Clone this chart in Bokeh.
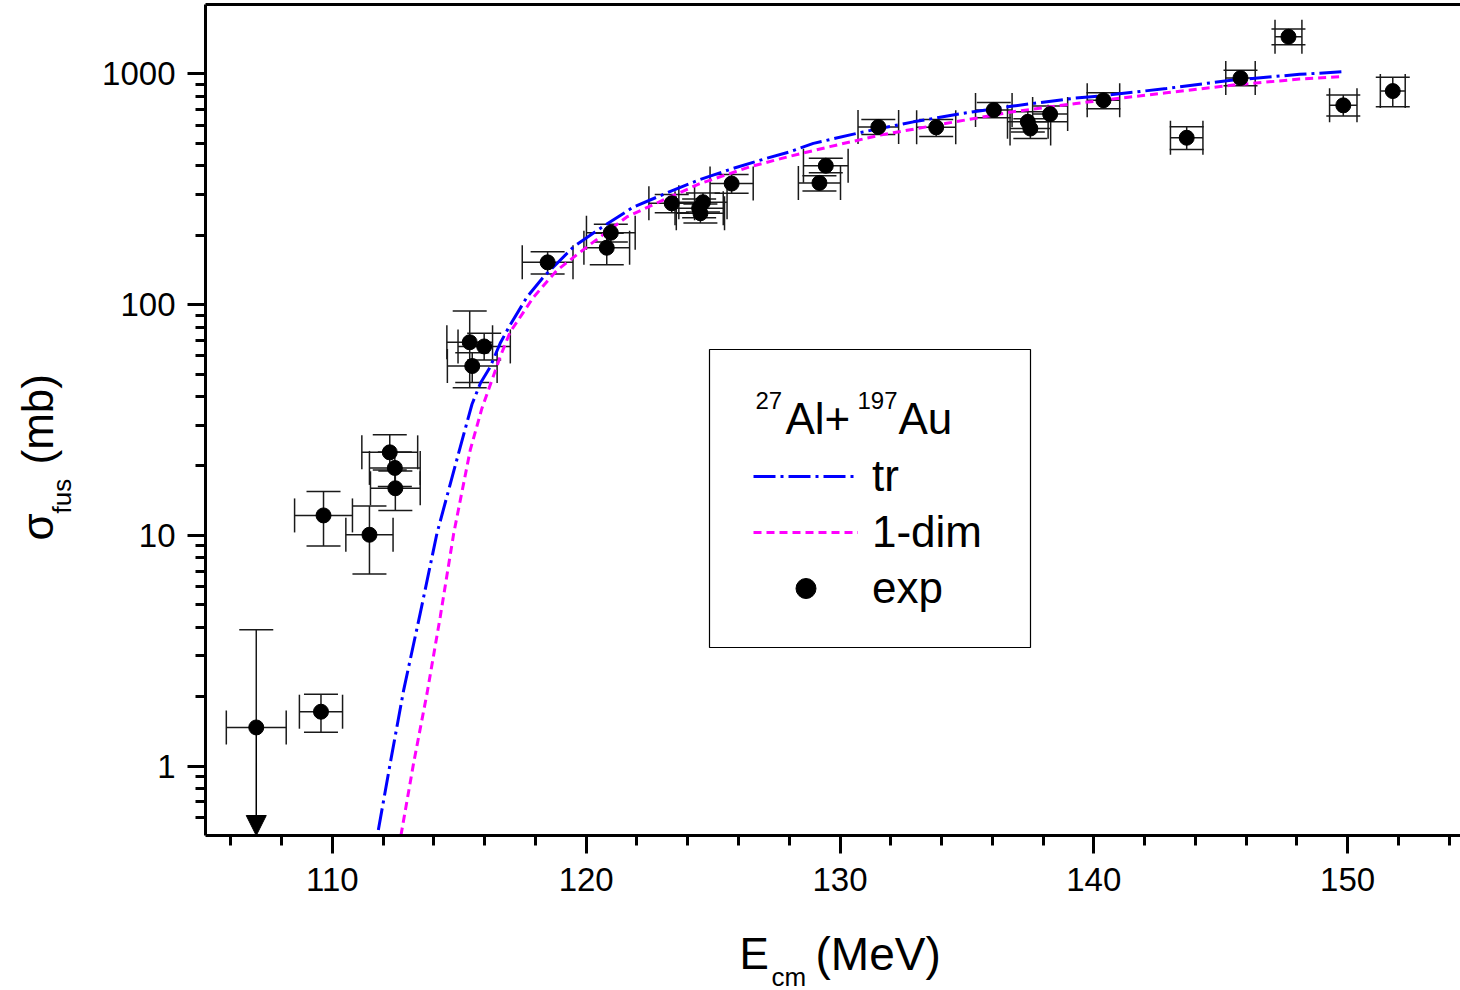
import math
from bokeh.plotting import figure
from bokeh.models import (Range1d, FixedTicker, LinearAxis, LogAxis, ColumnDataSource, Whisker,
                          TeeHead, Arrow, NormalHead, Label, BoxAnnotation, Legend, LegendItem,
                          PrintfTickFormatter)
from bokeh.embed import file_html
from bokeh.resources import INLINE

FONT = "Liberation Sans"

# ---------------- data ----------------
# experimental points: E_cm (MeV), sigma_fus (mb), half-width of E error, sigma error bounds
exp_E = [109.55, 109.65, 111.46, 112.26, 112.46, 112.48,
         115.41, 115.98, 115.51, 118.48, 120.97, 120.81,
         123.37, 124.60, 124.45, 124.50, 125.73, 129.19, 129.44,
         131.51, 133.79, 136.06, 137.40, 137.50, 138.28, 140.38,
         143.66, 145.78, 147.67, 149.83, 151.78]
exp_sig = [1.72, 12.2, 10.06, 22.9, 19.6, 16.0,
           68.7, 65.9, 54.2, 152.5, 205, 176.5,
           275, 278, 262, 249, 335, 337, 400,
           589, 587, 698, 620, 580, 670, 769,
           529, 960, 1449, 731, 843]
exp_dE = [0.85, 1.14, 0.93, 1.10, 1.00, 0.98,
          0.90, 1.03, 0.98, 1.00, 0.96, 0.90,
          0.90, 0.95, 0.95, 0.95, 0.85, 0.83, 0.88,
          0.80, 0.77, 0.72, 0.80, 0.80, 0.69, 0.64,
          0.64, 0.58, 0.53, 0.54, 0.49]
exp_sig_lo = [1.40, 9.0, 6.8, 19.2, 16.3, 12.8,
              43.6, 57.5, 46.0, 135.8, 187, 149,
              250, 252, 238, 226, 304, 311, 373,
              547, 535, 646, 560, 525, 621, 707,
              471, 889, 1340, 657, 721]
exp_sig_hi = [2.05, 15.5, 13.4, 27.3, 23.0, 19.0,
              93.8, 75.1, 61.8, 169.5, 223, 204,
              300, 305, 287, 273, 367, 362, 431,
              635, 635, 753, 686, 640, 726, 829,
              590, 1037, 1568, 811, 967]

# upper-limit point (arrow down)
lim_E = [107.0]
lim_sig = [1.47]
lim_dE = [1.18]
lim_sig_hi = [3.9]

# theoretical curves
tr_E = [111.81, 112.28, 112.81, 113.46, 114.12, 115.04, 115.5, 115.83, 116.22, 116.61,
        117.0, 117.67, 118.32, 119.5, 120.55, 121.86, 123.18, 124.49, 125.8, 127.11,
        128.03, 128.95, 130.92, 132.89, 134.86, 136.82, 139.19, 140.24, 142.86, 145.49,
        148.11, 149.82]
tr_sig = [0.528, 1.03, 2.14, 4.59, 10.2, 24.2, 37.0, 45.6, 53.8, 68.0,
          81.6, 108, 132, 178, 214, 265, 305, 349, 390, 431,
          460, 500, 561, 620, 675, 726, 784, 802, 865, 941,
          996, 1023]

dim_E = [112.7, 113.2, 113.73, 114.25, 114.78, 115.43, 115.89, 116.61, 117.0, 117.93,
         118.85, 120.03, 121.6, 123.18, 124.49, 126.46, 128.03, 129.6, 131.57, 134.2,
         136.82, 139.3, 142.86, 145.49, 148.11, 149.69]
dim_sig = [0.5, 1.03, 2.07, 4.44, 10.2, 23.4, 35.5, 59.4, 76.0, 108,
           141, 178, 240, 289, 335, 396, 440, 484, 543, 611,
           686, 745, 829, 895, 950, 973]

# axes
x_major = [110, 120, 130, 140, 150]
x_minor = [106, 108, 112, 114, 116, 118, 122, 124, 126, 128, 132, 134, 136, 138,
           142, 144, 146, 148, 152, 154]
y_major = [1, 10, 100, 1000]
y_minor = [0.6, 0.7, 0.8, 0.9, 2, 3, 4, 5, 6, 7, 8, 9, 20, 30, 40, 50, 60, 70, 80, 90,
           200, 300, 400, 500, 600, 700, 800, 900]
x_axis_span = (105, 154.45)      # drawn part of the x axis
y_axis_span = (0.5, 2000)        # drawn part of the y axis

# ---------------- figure ----------------
# The frame covers the whole canvas so that the axis titles (real text with
# sub/superscripts) are not clipped; the axes are pinned with fixed_location.
W, H = 1460, 990
frame_left_px, frame_bottom_px = 205, 155      # position of the axes on the canvas
px_per_MeV = 25.38
px_per_decade = 230.7
x_view = (x_axis_span[0] - frame_left_px / px_per_MeV,
          x_axis_span[0] + (W - frame_left_px) / px_per_MeV)
y_view = (y_axis_span[0] * 10 ** (-frame_bottom_px / px_per_decade),
          y_axis_span[0] * 10 ** ((H - frame_bottom_px) / px_per_decade))

p = figure(width=W, height=H, x_range=Range1d(*x_view), y_range=Range1d(*y_view),
           x_axis_type=None, y_axis_type="log", output_backend="svg", toolbar_location=None,
           min_border=0)
p.outline_line_color = None
p.grid.visible = False
p.yaxis.visible = False
p.background_fill_color = "white"
p.border_fill_color = "white"


def style(ax):
    ax.axis_line_width = 3
    ax.axis_line_color = "black"
    ax.major_tick_line_width = 3
    ax.minor_tick_line_width = 3
    ax.major_tick_line_color = "black"
    ax.minor_tick_line_color = "black"
    ax.major_tick_in = 0
    ax.major_tick_out = 18
    ax.minor_tick_in = 0
    ax.minor_tick_out = 10
    ax.major_label_text_font = FONT
    ax.major_label_text_font_size = "33px"
    ax.major_label_text_color = "black"
    ax.formatter = PrintfTickFormatter(format="%d")


xax = LinearAxis(fixed_location=y_axis_span[0], bounds=x_axis_span,
                 ticker=FixedTicker(ticks=x_major, minor_ticks=x_minor),
                 major_label_standoff=14)
style(xax)
p.add_layout(xax, "below")

yax = LogAxis(fixed_location=x_axis_span[0], bounds=y_axis_span,
              ticker=FixedTicker(ticks=y_major, minor_ticks=y_minor),
              major_label_standoff=12)
style(yax)
p.add_layout(yax, "left")

top = LinearAxis(fixed_location=y_axis_span[1], bounds=x_axis_span,
                 ticker=FixedTicker(ticks=[]), axis_line_width=3, axis_line_color="black",
                 major_tick_out=0, minor_tick_out=0, major_tick_in=0, minor_tick_in=0,
                 major_label_text_font_size="0px", major_label_standoff=0)
p.add_layout(top, "above")

# ---------------- curves ----------------
r_tr = p.line(tr_E, tr_sig, line_color="#0000FF", line_width=3, line_dash="22 5 3 5")
r_dim = p.line(dim_E, dim_sig, line_color="#FF00FF", line_width=3, line_dash="8 5")

# ---------------- experimental points ----------------
EB = "#1a1a1a"
src = ColumnDataSource(dict(
    E=exp_E, sig=exp_sig,
    Elo=[e - d for e, d in zip(exp_E, exp_dE)],
    Ehi=[e + d for e, d in zip(exp_E, exp_dE)],
    slo=exp_sig_lo, shi=exp_sig_hi))


def tee():
    return TeeHead(size=34, line_color=EB, line_width=1.5)


p.add_layout(Whisker(source=src, base="E", lower="slo", upper="shi", dimension="height",
                     line_color=EB, line_width=1.5, upper_head=tee(), lower_head=tee()))
p.add_layout(Whisker(source=src, base="sig", lower="Elo", upper="Ehi", dimension="width",
                     line_color=EB, line_width=1.5, upper_head=tee(), lower_head=tee()))

src_lim = ColumnDataSource(dict(
    E=lim_E, sig=lim_sig,
    Elo=[e - d for e, d in zip(lim_E, lim_dE)],
    Ehi=[e + d for e, d in zip(lim_E, lim_dE)],
    shi=lim_sig_hi, bottom=[y_axis_span[0]] * len(lim_E)))
p.add_layout(Whisker(source=src_lim, base="E", lower="sig", upper="shi", dimension="height",
                     line_color=EB, line_width=1.5, upper_head=tee(), lower_head=None))
p.add_layout(Whisker(source=src_lim, base="sig", lower="Elo", upper="Ehi", dimension="width",
                     line_color=EB, line_width=1.5, upper_head=tee(), lower_head=tee()))
p.add_layout(Arrow(source=src_lim, x_start="E", y_start="sig", x_end="E", y_end="bottom",
                   line_color="black", line_width=1.5,
                   end=NormalHead(size=20, fill_color="black", line_color="black")))

r_exp = p.scatter("E", "sig", source=src, marker="circle", size=15,
                  fill_color="black", line_color="black")
p.scatter("E", "sig", source=src_lim, marker="circle", size=15,
          fill_color="black", line_color="black")

# ---------------- legend ----------------
# screen units: origin at the canvas bottom-left (frame == canvas)
legend = Legend(items=[LegendItem(label="tr", renderers=[r_tr]),
                       LegendItem(label="1-dim", renderers=[r_dim]),
                       LegendItem(label="exp", renderers=[r_exp])],
                location=(753, 377), orientation="vertical",
                glyph_width=105, glyph_height=50, label_height=50, label_width=40,
                label_standoff=14, spacing=6, padding=0, margin=0,
                border_line_color=None, background_fill_alpha=0,
                label_text_font=FONT, label_text_font_size="44px", label_text_color="black")
p.add_layout(legend)

p.add_layout(BoxAnnotation(left=709, right=1030, top=641, bottom=343,
                           left_units="screen", right_units="screen",
                           top_units="screen", bottom_units="screen",
                           fill_alpha=0, line_color="black", line_alpha=1.0, line_width=1.2))


def lab(x, y, text, size, angle=0.0):
    p.add_layout(Label(x=x, y=y, x_units="screen", y_units="screen", text=text,
                       text_font=FONT, text_font_size=size, text_color="black",
                       text_align="left", text_baseline="alphabetic", angle=angle))


# legend title 27Al+197Au
lab(755, 590, "27", "24px")
lab(785, 572, "Al+", "44px")
lab(857, 590, "197", "24px")
lab(898, 572, "Au", "44px")

# x axis title  E_cm (MeV)
lab(739, 37, "E", "44px")
lab(771, 14, "cm", "26px")
lab(815, 37, "(MeV)", "46px")

# y axis title  sigma_fus (mb)
lab(37, 450, "σ", "44px", math.pi / 2)
lab(61, 477, "fus", "26px", math.pi / 2)
lab(37, 526, "(mb)", "44px", math.pi / 2)

open("out.html", "w").write(file_html(p, INLINE))
